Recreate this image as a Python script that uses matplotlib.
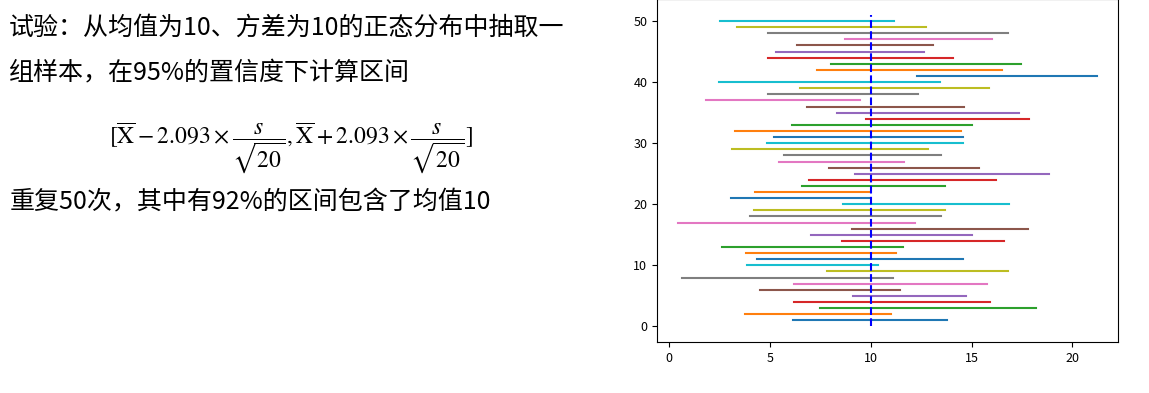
import numpy as np
import matplotlib
matplotlib.use("Agg")
import matplotlib.pyplot as plt

plt.rcParams['font.family'] = ['Noto Sans CJK SC', 'DejaVu Sans']
plt.rcParams['mathtext.fontset'] = 'stix'

# 50 个置信区间（下限、上限），第 i 个画在 y = i
lower = [6.16, 3.76, 7.49, 6.20, 9.14, 4.54, 6.20, 0.63, 7.85, 3.89,
         4.39, 3.81, 2.61, 8.58, 7.03, 9.06, 0.45, 4.03, 4.22, 8.63,
         3.09, 4.27, 6.62, 6.95, 9.24, 7.94, 5.46, 5.73, 3.12, 4.87,
         5.23, 3.27, 6.11, 9.75, 8.32, 6.85, 1.83, 4.92, 6.52, 2.46,
         12.28, 7.34, 8.04, 4.92, 5.33, 6.34, 8.73, 4.92, 3.38, 2.51]
upper = [13.78, 11.02, 18.20, 15.94, 14.74, 11.47, 15.76, 11.11, 16.82, 10.36,
         14.60, 11.24, 11.62, 16.63, 15.03, 17.82, 12.21, 13.50, 13.68, 16.86,
         9.93, 9.93, 13.68, 16.22, 18.84, 15.35, 11.67, 13.47, 12.85, 14.60,
         14.60, 14.47, 15.03, 17.87, 17.33, 14.65, 9.49, 12.34, 15.89, 13.42,
         21.22, 16.49, 17.46, 14.09, 12.66, 13.09, 16.02, 16.82, 12.72, 11.16]
mu = 10

fig = plt.figure(figsize=(11.49, 3.93), dpi=100)

# 左边的文字说明
fig.text(0.008, 0.93, "试验：从均值为10、方差为10的正态分布中抽取一", fontsize=18, va='center')
fig.text(0.008, 0.815, "组样本，在95%的置信度下计算区间", fontsize=18, va='center')
fig.text(0.253, 0.625,
         r"$[\overline{\mathrm{X}}-2.093\times\dfrac{s}{\sqrt{20}},"
         r"\overline{\mathrm{X}}+2.093\times\dfrac{s}{\sqrt{20}}]$",
         fontsize=17, ha='center', va='center')
fig.text(0.008, 0.485, "重复50次，其中有92%的区间包含了均值10", fontsize=18, va='center')

# 右边的区间图
ax = fig.add_axes([0.5718, 0.1298, 0.4012, 0.8718])
for i in range(len(lower)):
    ax.plot([lower[i], upper[i]], [i + 1, i + 1])
ax.plot([mu, mu], [0, len(lower) + 1], 'b--')
ax.tick_params(labelsize=9)

plt.savefig("out.png", dpi=100)
